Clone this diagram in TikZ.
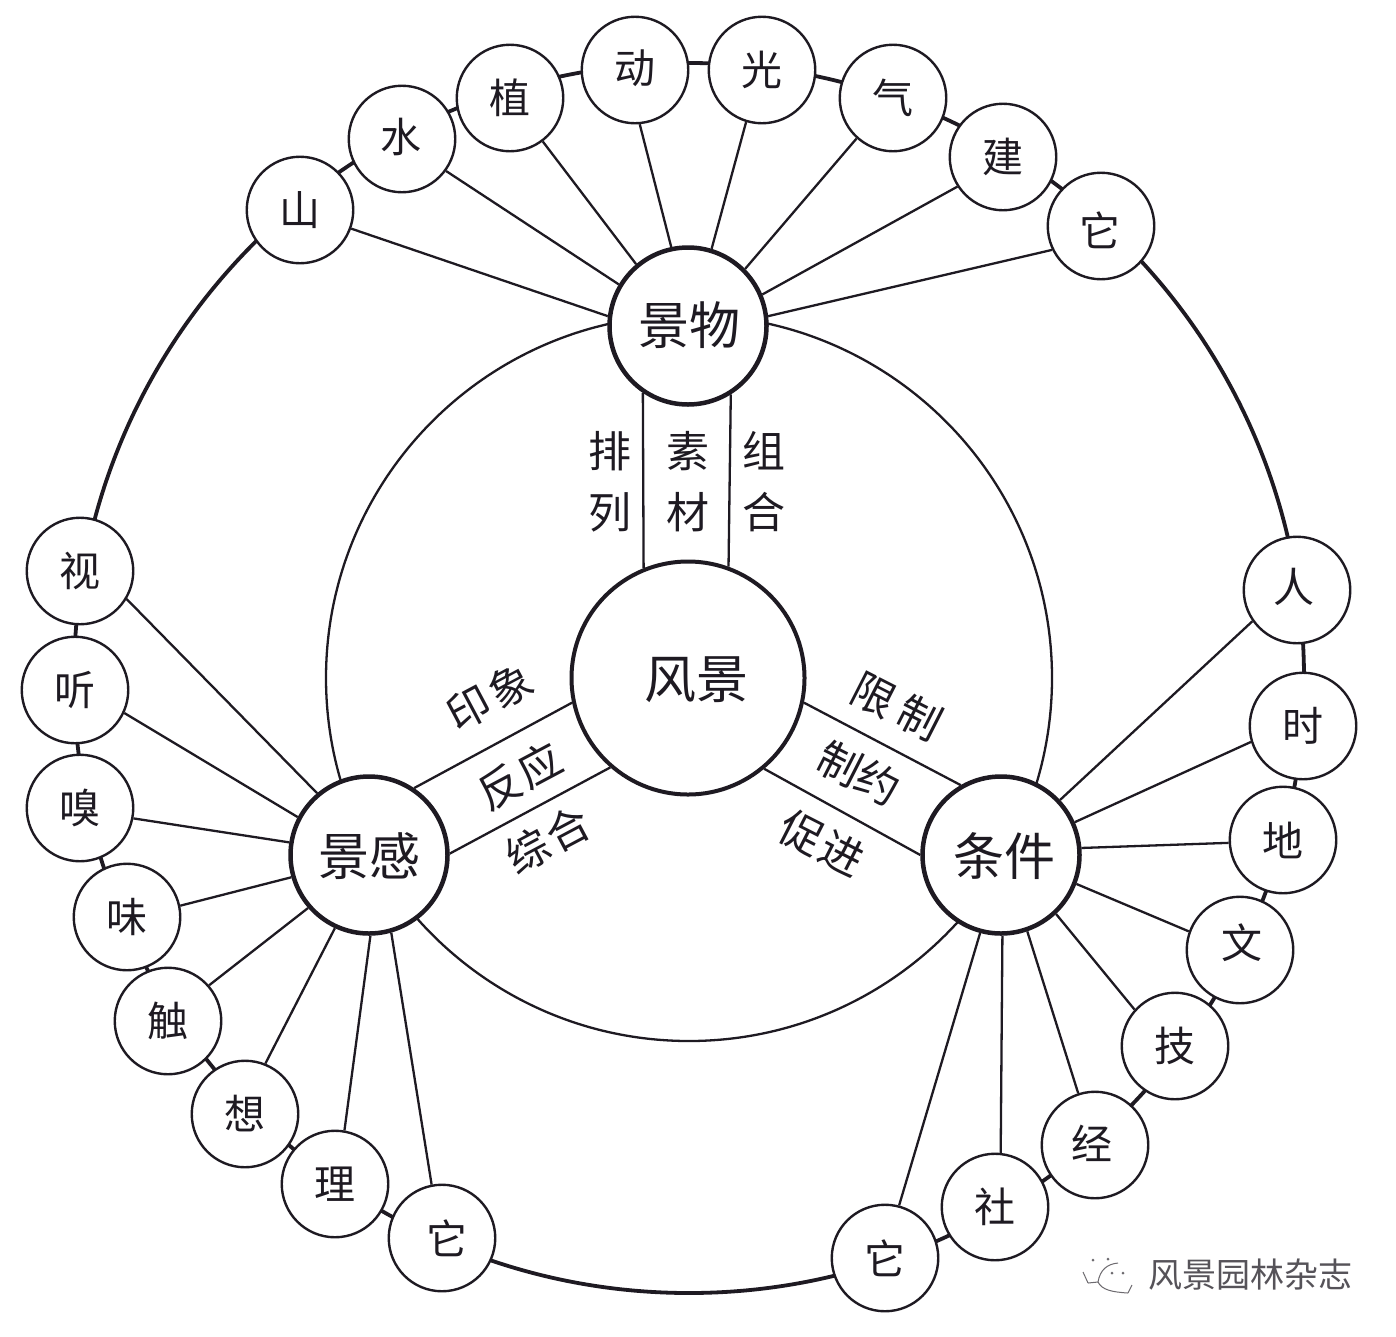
\documentclass[tikz,border=0pt]{standalone}
\usepackage{fontspec}
\setmainfont{Noto Sans CJK SC}
\newfontfamily\spaceda[LetterSpace=12]{Noto Sans CJK SC}
\newfontfamily\spacedb[LetterSpace=6]{Noto Sans CJK SC}
\newfontfamily\spacedc[LetterSpace=20]{Noto Sans CJK SC}
\definecolor{ink}{HTML}{1E1A22}
\tikzset{
  smallnode/.style={circle,draw=ink,line width=2.4pt,fill=white,minimum size=106.5pt,inner sep=0pt,font=\fontsize{41}{41}\selectfont,text=ink},
  hubnode/.style={circle,draw=ink,line width=4.5pt,fill=white,minimum size=157pt,inner sep=0pt},
  corenode/.style={circle,draw=ink,line width=4pt,fill=white,minimum size=233pt,inner sep=0pt},
  hubtext/.style={font=\fontsize{51}{51}\selectfont,text=ink,inner sep=0pt},
  smalltext/.style={font=\fontsize{41}{41}\selectfont,text=ink,inner sep=0pt},
  link/.style={draw=ink,line width=2.3pt},
  ringline/.style={draw=ink,line width=3.8pt},
  innerline/.style={draw=ink,line width=2.3pt},
  lab/.style={inner sep=0pt,font=\fontsize{43}{43}\selectfont,text=ink},
  wmark/.style={inner sep=0pt,font=\fontsize{34}{34}\selectfont,text=ink!75},
  icon/.style={draw=ink!65,line width=1pt},
  icondot/.style={fill=ink!65}
}
\begin{document}
\begin{tikzpicture}[x=1pt,y=-1pt]
\useasboundingbox (0,0) rectangle (1396,1336);
\fill[white] (0,0) rectangle (1396,1336);
\coordinate (ringc) at (689,678);
\draw[ringline] (ringc) circle[radius=615pt];
\draw[innerline] (ringc) circle[radius=363pt];
% hubs
\node[hubnode] (wu) at (688,326) {};
\node[hubnode] (gan) at (369,855) {};
\node[hubnode] (tiao) at (1001,855) {};
\node[corenode] (core) at (688,678) {};
\node[hubtext,font=\fontsize{52}{52}\selectfont] (coret) at (696,680) {风景};
\node[hubtext] (wut) at (689,325) {景物};
\node[hubtext] (gant) at (369,856) {景感};
\node[hubtext] (tiaot) at (1004,856) {条件};
% small nodes: top
\node[smallnode] (a1) at (300,210) {山};
\node[smallnode] (a2) at (402,139) {};
\node[smalltext] (a2t) at (401,137) {水};
\node[smallnode] (a3) at (510,98) {植};
\node[smallnode] (a4) at (635,70) {};
\node[smalltext] (a4t) at (635,68) {动};
\node[smallnode] (a5) at (762,70) {光};
\node[smallnode] (a6) at (893,98) {气};
\node[smallnode] (a7) at (1003,157) {建};
\node[smallnode] (a8) at (1101,226) {};
\node[smalltext] (a8t) at (1100,230) {它};
% left
\node[smallnode] (b1) at (80,571) {视};
\node[smallnode] (b2) at (75,690) {听};
\node[smallnode] (b3) at (80,808) {嗅};
\node[smallnode] (b4) at (127,917) {味};
\node[smallnode] (b5) at (168,1021) {触};
\node[smallnode] (b6) at (245,1114) {想};
\node[smallnode] (b7) at (335,1184) {理};
\node[smallnode] (b8) at (442,1238) {};
\node[smalltext] (b8t) at (447,1238) {它};
% right
\node[smallnode] (c1) at (1297,590) {};
\node[smalltext] (c1t) at (1294,587) {人};
\node[smallnode] (c2) at (1303,726) {时};
\node[smallnode] (c3) at (1283,840) {地};
\node[smallnode] (c4) at (1240,950) {};
\node[smalltext] (c4t) at (1242,943) {文};
\node[smallnode] (c5) at (1175,1046) {技};
\node[smallnode] (c6) at (1095,1145) {};
\node[smalltext] (c6t) at (1092,1143) {经};
\node[smallnode] (c7) at (995,1207) {社};
\node[smallnode] (c8) at (885,1258) {它};
% connectors
\draw[link] (a1.-20) -- (wu.173);
\draw[link] (a2.-36) -- (wu.149);
\draw[link] (a3.-53) -- (wu.130);
\draw[link] (a4.-85) -- (wu.102);
\draw[link] (a5.-107) -- (wu.73);
\draw[link] (a6.-132) -- (wu.45);
\draw[link] (a7.-147) -- (wu.23);
\draw[link] (a8.-154) -- (wu.7);
\draw[link] (b1.-31) -- (gan.130);
\draw[link] (b2.-25) -- (gan.152);
\draw[link] (b3.-11) -- (gan.171);
\draw[link] (b4.12) -- (gan.196);
\draw[link] (b5.41) -- (gan.221);
\draw[link] (b6.68) -- (gan.245);
\draw[link] (b7.80) -- (gan.271);
\draw[link] (b8.101) -- (gan.-74);
\draw[link] (c1.215) -- (tiao.43);
\draw[link] (c2.197) -- (tiao.24);
\draw[link] (c3.183) -- (tiao.5);
\draw[link] (c4.160) -- (tiao.-21);
\draw[link] (c5.138) -- (tiao.-47);
\draw[link] (c6.108) -- (tiao.-71);
\draw[link] (c7.84) -- (tiao.-89);
\draw[link] (c8.75) -- (tiao.-105);
\draw[link] (wu.236) -- (core.112);
\draw[link] (wu.-58) -- (core.70);
\draw[link] (gan.56) -- (core.192);
\draw[link] (gan.1) -- (core.229);
\draw[link] (core.-12) -- (tiao.120);
\draw[link] (core.-50) -- (tiao.180);
% labels
\node[lab] (l1) at (610,451) {排};
\node[lab] (l2) at (610,512) {列};
\node[lab] (l3) at (688,451) {素};
\node[lab] (l4) at (688,512) {材};
\node[lab] (l5) at (764,451) {组};
\node[lab] (l6) at (764,512) {合};
\node[lab,rotate=28] (l7) at (490,697) {\spaceda 印象};
\node[lab,rotate=28] (l8) at (520,776) {\spacedb 反应};
\node[lab,rotate=28] (l9) at (548,840) {\spacedb 综合};
\node[lab,rotate=-27] (l10) at (897,706) {\spacedc 限制};
\node[lab,rotate=-27] (l11) at (859,773) {制约};
\node[lab,rotate=-27] (l12) at (822,843) {\spacedb 促进};
% watermark
\node[wmark] (wm) at (1250,1275) {风景园林杂志};
\draw[icon] (1083,1272) -- (1088,1283);
\draw[icon] (1088,1283) -- (1098,1282) .. controls (1100,1270) and (1107,1264) .. (1118,1263);
\draw[icon] (1098,1282) .. controls (1102,1290) and (1112,1292) .. (1128,1293);
\draw[icon] (1128,1293) -- (1132,1285);
\fill[icondot] (1093,1260) circle[radius=1.5pt];
\fill[icondot] (1108,1259) circle[radius=1.5pt];
\fill[icondot] (1112,1273) circle[radius=1.5pt];
\fill[icondot] (1123,1273) circle[radius=1.5pt];
\end{tikzpicture}
\end{document}
